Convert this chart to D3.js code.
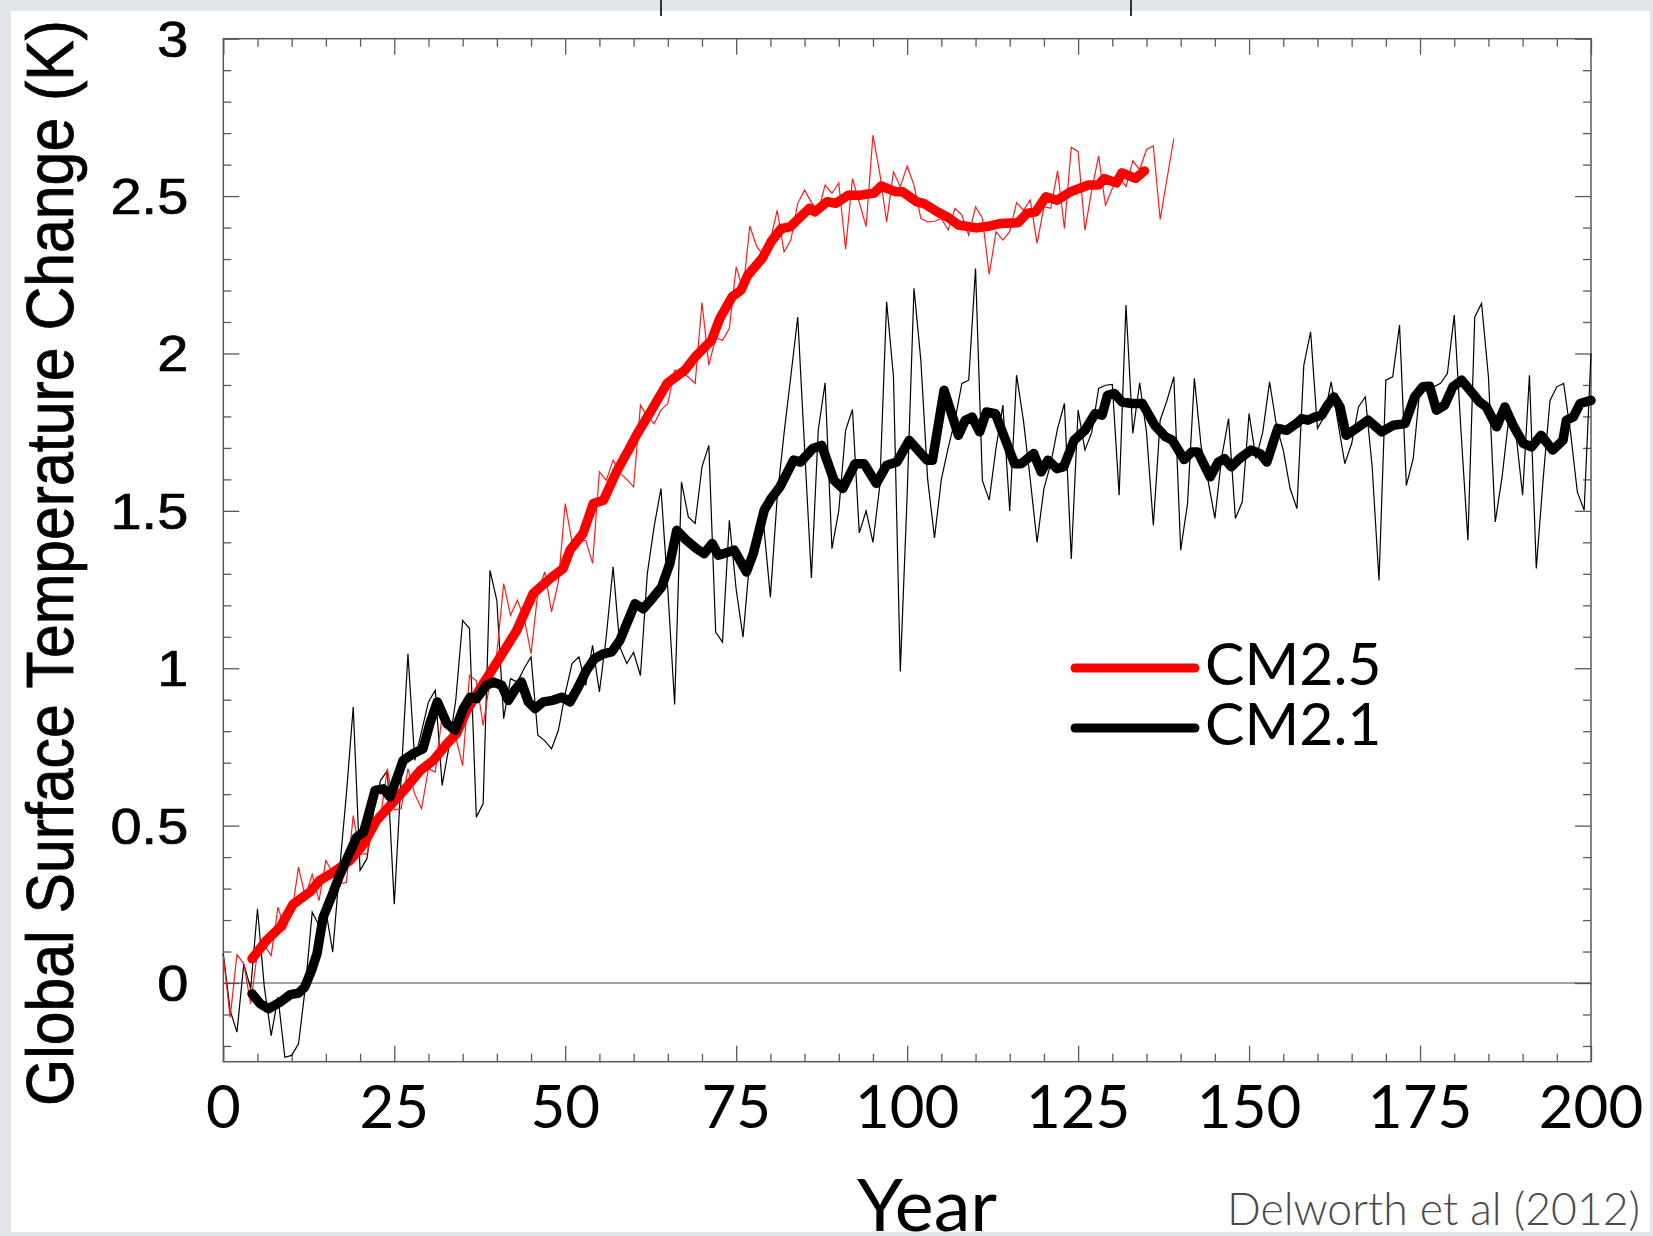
<!DOCTYPE html>
<html><head><meta charset="utf-8">
<script src="https://cdn.jsdelivr.net/npm/d3@7"></script>
<style>html,body{margin:0;padding:0;background:#fff;} svg{display:block;}</style>
</head><body>
<svg id="c" width="1653" height="1236"></svg>
<script>
// ---------------- data ----------------
const xTicks = [0, 25, 50, 75, 100, 125, 150, 175, 200];
const xTickLabels = ["0", "25", "50", "75", "100", "125", "150", "175", "200"];
const yTicks = [0, 0.5, 1, 1.5, 2, 2.5, 3];
const yTickLabels = ["0", "0.5", "1", "1.5", "2", "2.5", "3"];
const seriesNames = ["CM2.5", "CM2.1"];
const seriesColors = ["#ff0000", "#000000"];

// CM2.5 annual values, years 0..139
const cm25Annual = [
 0.087,-0.109,0.09,0.061,-0.066,0.10,0.12,0.087,0.241,0.17,
 0.22,0.368,0.273,0.345,0.262,0.389,0.349,0.315,0.32,0.532,
 0.41,0.41,0.50,0.53,0.681,0.55,0.554,0.681,0.60,0.554,
 0.681,0.67,0.85,0.84,0.78,0.691,0.977,0.96,0.818,0.96,
 1.046,1.269,1.168,1.216,1.16,1.046,1.242,1.306,1.179,1.274,
 1.523,1.401,1.401,1.407,1.333,1.624,1.597,1.661,1.62,1.60,
 1.576,1.836,1.80,1.777,1.82,1.841,1.947,1.94,1.925,1.905,
 2.162,1.963,2.05,2.042,2.079,2.275,2.20,2.405,2.339,2.312,
 2.36,2.455,2.323,2.36,2.477,2.519,2.48,2.45,2.535,2.509,
 2.542,2.331,2.555,2.48,2.403,2.694,2.572,2.418,2.577,2.53,
 2.595,2.535,2.429,2.418,2.42,2.429,2.392,2.461,2.44,2.376,
 2.466,2.43,2.251,2.387,2.36,2.387,2.479,2.455,2.487,2.35,
 2.466,2.461,2.58,2.397,2.655,2.641,2.392,2.52,2.627,2.471,
 2.524,2.56,2.53,2.612,2.584,2.648,2.659,2.426,2.555,2.683];

// CM2.1 annual values, years 0..200
const cm21Annual = [
 0.093,-0.087,-0.156,0.061,-0.018,0.236,-0.013,-0.167,-0.045,-0.236,
 -0.23,-0.193,-0.013,0.225,0.183,0.23,0.098,0.36,0.60,0.877,
 0.358,0.395,0.55,0.644,0.675,0.25,0.65,1.046,0.707,0.80,
 0.893,0.93,0.628,0.75,0.90,1.152,1.126,0.527,0.57,1.311,
 1.216,0.84,0.967,0.956,1.00,1.036,0.787,0.77,0.744,0.803,
 0.92,1.015,1.036,0.946,1.073,0.925,1.10,1.322,1.067,1.015,
 1.05,0.977,1.30,1.45,1.571,1.25,0.885,1.592,1.481,1.46,
 1.64,1.708,1.115,1.083,1.47,1.25,1.099,1.35,1.45,1.46,
 1.226,1.544,1.746,1.93,2.116,1.70,1.287,1.756,1.907,1.38,
 1.50,1.756,1.822,1.43,1.50,1.40,1.58,2.164,1.926,0.99,
 1.55,2.207,1.979,1.60,1.414,1.60,1.70,1.788,1.905,1.915,
 2.27,1.597,1.534,1.70,1.836,1.50,1.931,1.788,1.60,1.40,
 1.571,1.65,1.762,1.841,1.347,1.82,1.693,1.75,1.889,1.899,
 1.902,1.55,2.154,1.746,1.907,1.75,1.454,1.788,1.851,1.926,
 1.375,1.523,1.921,1.703,1.597,1.476,1.671,1.793,1.476,1.528,
 1.809,1.666,1.75,1.91,1.772,1.693,1.571,1.507,1.962,2.069,
 1.762,1.80,1.91,1.78,1.65,1.714,1.83,1.862,1.64,1.279,
 1.915,1.926,2.09,1.581,1.666,1.894,1.894,1.894,1.905,1.936,
 2.122,1.75,1.407,2.116,2.159,1.926,1.465,1.608,1.798,1.75,
 1.55,1.931,1.317,1.60,1.85,1.894,1.905,1.75,1.56,1.502,
 2.0];

// CM2.5 smoothed curve (thick)
const cm25SmoothYears = [4.2,6.3,8.3,10.2,12.7,14.1,16.1,18.5,20.5,22.4,24.4,26.8,28.8,30.7,32.7,34.1,35.6,38.0,40.5,42.9,45.3,47.8,49.7,50.7,52.6,54.1,55.6,57.5,59.5,60.4,62.4,64.9,67.5,69.0,71.4,72.6,74.4,75.7,76.7,78.8,80.1,81.6,82.9,84.4,85.7,86.5,88.3,89.6,91.4,93.2,95.2,96.2,98.3,99.3,101.4,102.4,104.4,106.0,107.5,110.1,112.1,113.7,116.2,117.5,118.8,120.3,121.9,123.9,126.5,128.0,128.8,130.6,131.4,133.4,134.7];
const cm25SmoothVals = [0.077,0.135,0.177,0.25,0.29,0.326,0.352,0.389,0.44,0.516,0.564,0.622,0.675,0.707,0.76,0.792,0.866,0.951,1.036,1.12,1.237,1.285,1.317,1.375,1.428,1.523,1.534,1.624,1.703,1.74,1.812,1.905,1.947,1.989,2.042,2.111,2.18,2.201,2.249,2.302,2.355,2.397,2.402,2.434,2.461,2.45,2.482,2.477,2.503,2.503,2.51,2.532,2.514,2.514,2.482,2.477,2.45,2.432,2.408,2.399,2.405,2.413,2.415,2.445,2.45,2.498,2.487,2.514,2.535,2.535,2.556,2.542,2.574,2.556,2.58];

// CM2.1 smoothed curve (thick)
const cm21SmoothYears = [4.2,5.4,6.6,8.3,9.8,11.0,11.9,12.9,13.7,14.6,15.8,17.1,18.3,19.5,20.5,21.0,22.2,23.4,24.4,26.3,27.8,29.2,30.2,31.3,32.7,33.9,35.1,36.1,37.0,38.5,39.5,40.7,41.7,42.6,43.6,44.6,45.6,46.8,48.2,49.5,50.7,51.9,53.1,54.3,55.6,56.8,58.0,59.2,60.2,61.4,62.9,64.1,65.3,66.3,67.7,69.2,70.3,71.5,72.4,74.7,76.5,77.5,79.1,80.1,81.4,83.4,84.4,86.2,87.5,89.3,90.6,92.4,93.7,95.5,97.0,98.5,100.3,102.9,103.7,105.4,107.5,108.5,109.5,110.6,111.6,112.9,114.2,115.7,116.7,118.5,119.6,120.6,121.9,122.9,124.4,126.0,127.5,128.5,129.3,130.3,131.4,132.9,134.4,136.2,137.8,138.8,140.5,141.6,142.5,144.3,145.5,146.4,147.4,148.6,150.3,151.6,152.6,154.2,155.5,156.9,157.7,158.6,159.6,160.6,161.5,162.4,163.3,164.2,165.7,167.4,169.4,171.1,172.8,174.2,175.4,176.4,177.4,178.6,179.8,181.1,182.7,183.7,184.7,186.2,187.4,188.6,190.1,191.3,192.7,194.4,195.9,196.4,197.4,198.4,200.0];
const cm21SmoothVals = [-0.034,-0.066,-0.082,-0.061,-0.037,-0.032,-0.013,0.04,0.093,0.209,0.273,0.347,0.405,0.463,0.479,0.516,0.612,0.617,0.591,0.707,0.729,0.744,0.824,0.893,0.824,0.803,0.872,0.908,0.903,0.946,0.956,0.946,0.898,0.93,0.956,0.893,0.872,0.893,0.898,0.908,0.893,0.94,0.993,1.031,1.046,1.052,1.089,1.152,1.205,1.189,1.226,1.258,1.333,1.438,1.407,1.38,1.364,1.396,1.359,1.375,1.306,1.364,1.502,1.539,1.576,1.661,1.655,1.698,1.708,1.597,1.571,1.65,1.65,1.587,1.645,1.655,1.724,1.661,1.661,1.883,1.74,1.788,1.798,1.751,1.814,1.809,1.735,1.65,1.65,1.682,1.624,1.661,1.634,1.64,1.724,1.756,1.809,1.804,1.867,1.873,1.846,1.841,1.841,1.772,1.735,1.724,1.663,1.687,1.687,1.608,1.655,1.666,1.64,1.666,1.693,1.682,1.655,1.762,1.756,1.777,1.793,1.788,1.798,1.804,1.836,1.862,1.83,1.74,1.762,1.788,1.751,1.772,1.777,1.862,1.894,1.896,1.82,1.836,1.894,1.915,1.873,1.846,1.83,1.767,1.83,1.772,1.714,1.703,1.74,1.693,1.724,1.788,1.798,1.841,1.851];

// ---------------- drawing ----------------
const W = 1653, H = 1236;
const svg = d3.select("#c");
const x = d3.scaleLinear().domain([0, 200]).range([223.3, 1591]);
const y = d3.scaleLinear().domain([-0.25, 3]).range([1061.7, 38.7]);

svg.append("rect").attr("x", 0).attr("y", 0).attr("width", W).attr("height", H).attr("fill", "#fff");

const frameColor = "#5a5a5a";
const MAJ = 16, MIN = 8;
function styleAxis(g) {
  g.select(".domain").remove();
  g.selectAll(".tick line").attr("stroke", frameColor).attr("stroke-width", 1.3);
  g.selectAll(".tick text").remove();
}
const xMinor = d3.range(0, 201, 5).filter(v => v % 25 !== 0);
const yMinor = d3.range(-2, 31, 1).map(v => v / 10).filter(v => Math.abs(v * 2 - Math.round(v * 2)) > 1e-6);

// bottom
svg.append("g").attr("transform", `translate(0,${y(-0.25)})`).call(d3.axisBottom(x).tickValues(xTicks).tickSize(-MAJ)).call(styleAxis);
svg.append("g").attr("transform", `translate(0,${y(-0.25)})`).call(d3.axisBottom(x).tickValues(xMinor).tickSize(-MIN)).call(styleAxis);
// top
svg.append("g").attr("transform", `translate(0,${y(3)})`).call(d3.axisTop(x).tickValues(xTicks).tickSize(-MAJ)).call(styleAxis);
svg.append("g").attr("transform", `translate(0,${y(3)})`).call(d3.axisTop(x).tickValues(xMinor).tickSize(-MIN)).call(styleAxis);
// left
svg.append("g").attr("transform", `translate(${x(0)},0)`).call(d3.axisLeft(y).tickValues(yTicks).tickSize(-MAJ)).call(styleAxis);
svg.append("g").attr("transform", `translate(${x(0)},0)`).call(d3.axisLeft(y).tickValues(yMinor).tickSize(-MIN)).call(styleAxis);
// right
svg.append("g").attr("transform", `translate(${x(200)},0)`).call(d3.axisRight(y).tickValues(yTicks).tickSize(-MAJ)).call(styleAxis);
svg.append("g").attr("transform", `translate(${x(200)},0)`).call(d3.axisRight(y).tickValues(yMinor).tickSize(-MIN)).call(styleAxis);

// frame
svg.append("rect").attr("x", x(0)).attr("y", y(3)).attr("width", x(200) - x(0)).attr("height", y(-0.25) - y(3))
  .attr("fill", "none").attr("stroke", frameColor).attr("stroke-width", 1.5);

// zero line
svg.append("line").attr("x1", x(0)).attr("x2", x(200)).attr("y1", y(0)).attr("y2", y(0))
  .attr("stroke", "#444").attr("stroke-width", 1.2);

// tick labels
svg.append("g").selectAll("text").data(xTicks).join("text")
  .attr("x", d => x(d)).attr("y", y(-0.25) + 66).attr("text-anchor", "middle")
  .attr("font-family", "Lato, 'Open Sans', sans-serif").attr("font-size", 60).attr("fill", "#000")
  .text((d, i) => xTickLabels[i]);
svg.append("g").selectAll("text").data(yTicks).join("text")
  .attr("transform", d => `translate(${x(0) - 35},${y(d)}) scale(1.12,1)`)
  .attr("dy", "0.36em").attr("text-anchor", "end")
  .attr("font-family", "'Liberation Sans', Arial, sans-serif").attr("font-size", 50).attr("fill", "#000")
  .attr("stroke", "#000").attr("stroke-width", 0.7)
  .text((d, i) => yTickLabels[i]);

// lines
const lineAnnual = d3.line().x((d, i) => x(i)).y(d => y(d));
const lineSmooth = d3.line().x(d => x(d[0])).y(d => y(d[1]));
svg.append("path").attr("d", lineAnnual(cm21Annual)).attr("fill", "none").attr("stroke", "#000").attr("stroke-width", 1.2);
svg.append("path").attr("d", lineAnnual(cm25Annual)).attr("fill", "none").attr("stroke", "#ff1a1a").attr("stroke-width", 1.2);
svg.append("path").attr("d", lineSmooth(cm25SmoothYears.map((yr, i) => [yr, cm25SmoothVals[i]])))
  .attr("fill", "none").attr("stroke", "#ff0000").attr("stroke-width", 9.5).attr("stroke-linejoin", "round").attr("stroke-linecap", "round");
svg.append("path").attr("d", lineSmooth(cm21SmoothYears.map((yr, i) => [yr, cm21SmoothVals[i]])))
  .attr("fill", "none").attr("stroke", "#000").attr("stroke-width", 9.5).attr("stroke-linejoin", "round").attr("stroke-linecap", "round");

// legend
const leg = svg.append("g");
seriesNames.forEach((name, i) => {
  const ly = 668 + i * 60;
  leg.append("line").attr("x1", 1075).attr("x2", 1195).attr("y1", ly).attr("y2", ly)
    .attr("stroke", seriesColors[i]).attr("stroke-width", 9).attr("stroke-linecap", "round");
  leg.append("text").attr("x", 1205).attr("y", ly + 17).attr("font-family", "Lato, 'Open Sans', sans-serif")
    .attr("font-size", 59).attr("fill", "#000").text(name);
});

// axis titles
svg.append("text").attr("transform", "translate(73,563) rotate(-90)").attr("text-anchor", "middle")
  .attr("font-family", "'Liberation Sans Narrow', 'Liberation Sans', sans-serif").attr("font-size", 66)
  .attr("textLength", 1086).attr("lengthAdjust", "spacingAndGlyphs").attr("fill", "#000")
  .attr("stroke", "#000").attr("stroke-width", 0.8)
  .text("Global Surface Temperature Change (K)");
svg.append("text").attr("x", 927).attr("y", 1231).attr("text-anchor", "middle")
  .attr("font-family", "Lato, 'Open Sans', sans-serif").attr("font-size", 72)
  .attr("textLength", 140).attr("lengthAdjust", "spacingAndGlyphs").attr("fill", "#000").text("Year");
svg.append("text").attr("x", 1227).attr("y", 1225)
  .attr("font-family", "Lato, 'Open Sans', sans-serif").attr("font-weight", 300).attr("font-size", 46)
  .attr("textLength", 413).attr("lengthAdjust", "spacingAndGlyphs").attr("fill", "#4a4a4a").text("Delworth et al (2012)");

// surrounding slide border
const border = "#e2e5e9";
svg.append("rect").attr("x", 0).attr("y", 0).attr("width", W).attr("height", 11).attr("fill", border);
svg.append("rect").attr("x", 0).attr("y", 0).attr("width", 11).attr("height", H).attr("fill", border);
svg.append("rect").attr("x", 1650).attr("y", 0).attr("width", 3).attr("height", H).attr("fill", border);
svg.append("rect").attr("x", 0).attr("y", 1232).attr("width", W).attr("height", 4).attr("fill", border);
[661, 1131].forEach(px => svg.append("line").attr("x1", px).attr("x2", px).attr("y1", 0).attr("y2", 16)
  .attr("stroke", "#333").attr("stroke-width", 2));
</script>
</body></html>
